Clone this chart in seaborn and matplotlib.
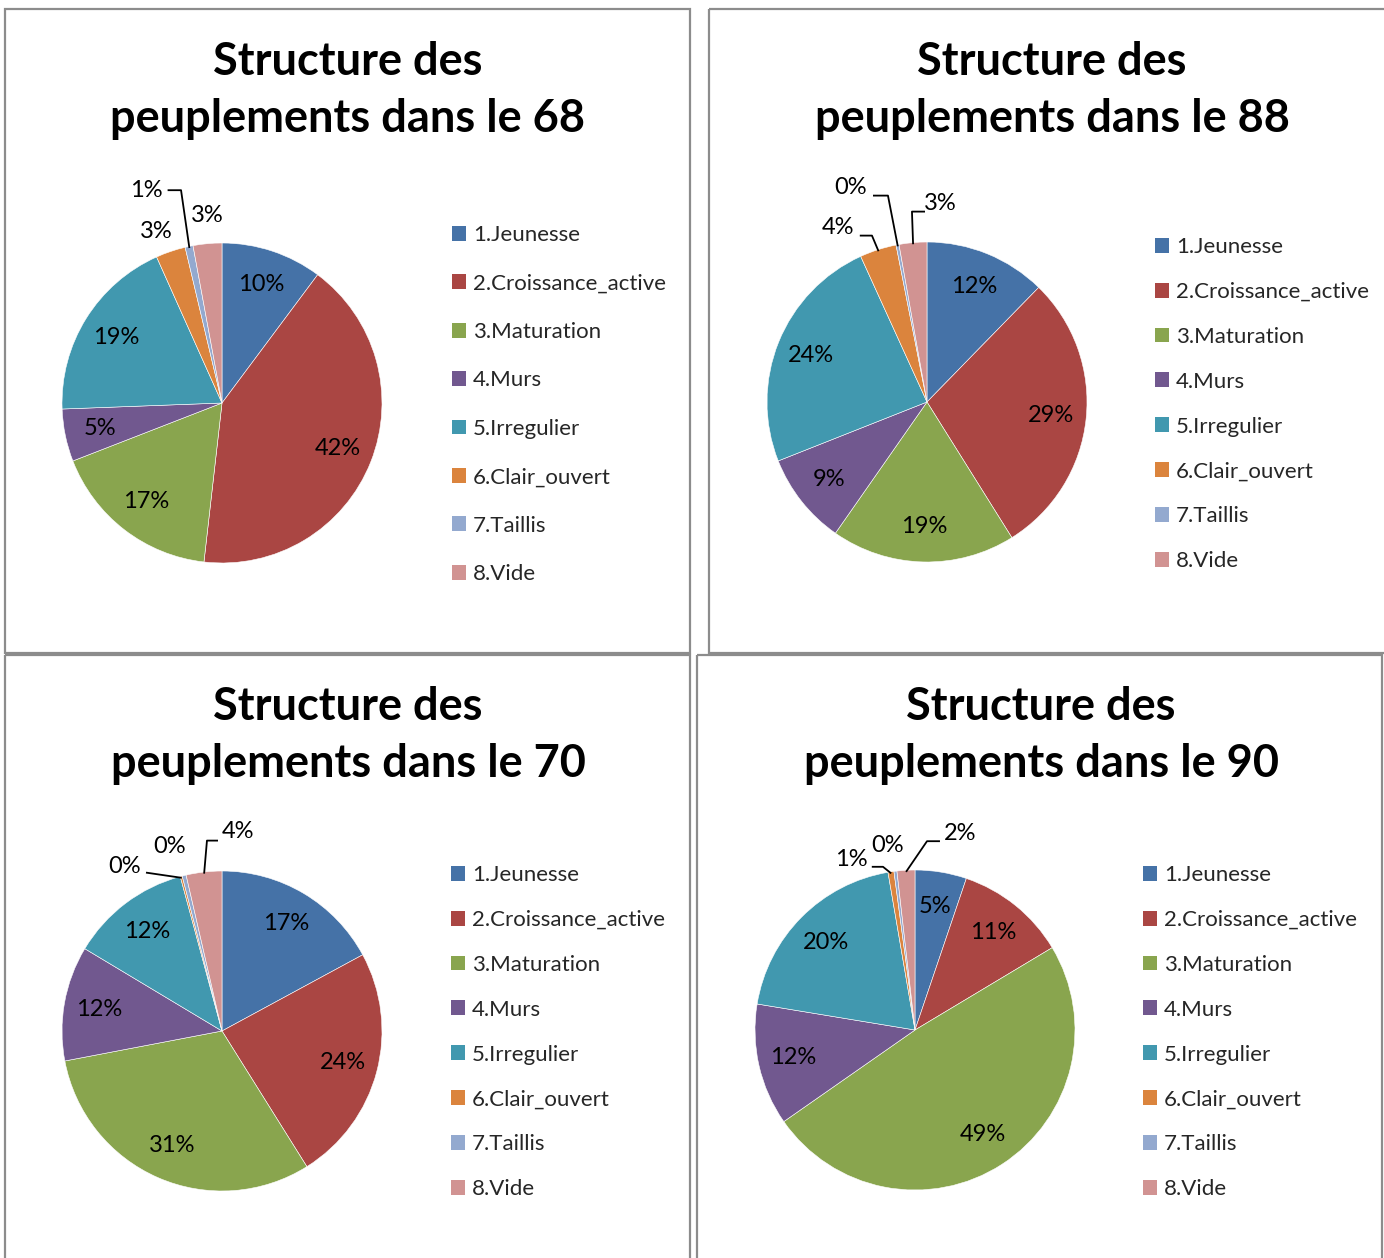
import numpy as np
import matplotlib
matplotlib.use("Agg")
import matplotlib.pyplot as plt
from matplotlib.patches import Patch, Rectangle
import seaborn as sns

sns.set_theme(style="white")
plt.rcParams["font.family"] = ["Lato", "DejaVu Sans"]

# ---- data -------------------------------------------------------------
categories = ["1.Jeunesse", "2.Croissance_active", "3.Maturation", "4.Murs",
              "5.Irregulier", "6.Clair_ouvert", "7.Taillis", "8.Vide"]
dept_68 = [10.2, 41.6, 17.3, 5.3, 18.9, 3.0, 0.8, 2.9]
dept_88 = [12.3, 28.8, 18.6, 9.3, 24.2, 3.7, 0.3, 2.8]
dept_70 = [17.1, 24.0, 30.9, 11.6, 12.2, 0.2, 0.4, 3.6]
dept_90 = [5.2, 11.2, 48.9, 12.3, 19.7, 0.6, 0.3, 1.8]
departments = ["68", "88", "70", "90"]

colors = sns.color_palette(["#4572A7", "#AA4643", "#89A54E", "#71588F",
                            "#4198AF", "#DB843D", "#93A9CF", "#D19392"])

W, H = 1384, 1258
fig = plt.figure(figsize=(W / 100, H / 100), dpi=100)
fig.patch.set_facecolor("white")

R_PX = 160  # pie radius in pixels


def px(x, y):
    return x / W, 1 - y / H


# panel layout: frame box, pie centre, title centre x, title top y, legend anchor
panels = [
    dict(vals=dept_68, box=(5, 9, 690, 653), c=(222, 403), tx=348, ty=62,
         leg=(452, 225), lsp=1.28,
         small={5: ((-0.41, 1.075), None),
                6: ((-0.47, 1.33), [(-0.34, 1.33), (-0.256, 1.33)]),
                7: ((-0.09, 1.175), None)}),
    dict(vals=dept_88, box=(709, 9, 1400, 653), c=(927, 402), tx=1052, ty=62,
         leg=(1155, 237), lsp=1.12,
         small={5: ((-0.556, 1.0875), [(-0.42, 1.04), (-0.344, 1.04)]),
                6: ((-0.48, 1.3375), [(-0.3375, 1.29), (-0.244, 1.29)]),
                7: ((0.08, 1.2375), [(-0.0125, 1.19), (-0.094, 1.19)])}),
    dict(vals=dept_70, box=(5, 655, 690, 1270), c=(222, 1031), tx=348, ty=707,
         leg=(451, 865), lsp=1.12,
         small={5: ((-0.606, 1.03), [(-0.475, 0.99)]),
                6: ((-0.325, 1.156), None),
                7: ((0.1, 1.244), [(-0.025, 1.19), (-0.094, 1.19)])}),
    dict(vals=dept_90, box=(697, 655, 1382, 1270), c=(915, 1030), tx=1041, ty=707,
         leg=(1143, 865), lsp=1.12,
         small={5: ((-0.4, 1.0625), [(-0.27, 1.02), (-0.2, 1.02)]),
                6: ((-0.169, 1.156), None),
                7: ((0.28, 1.225), [(0.156, 1.18), (0.075, 1.18)])}),
]

border_ax = fig.add_axes([0, 0, 1, 1])
border_ax.set_xlim(0, W)
border_ax.set_ylim(H, 0)
border_ax.axis("off")

LABEL_FS = 17
LEGEND_FS = 16

for dept, p in zip(departments, panels):
    x0, y0, x1, y1 = p["box"]
    border_ax.add_patch(Rectangle((x0, y0), x1 - x0, y1 - y0, fill=False,
                                  edgecolor="#8C8C8C", linewidth=1.6))

    cx, cy = p["c"]
    half = 260
    ax = fig.add_axes([(cx - half) / W, 1 - (cy + half) / H, 2 * half / W, 2 * half / H])

    vals = np.array(p["vals"])
    wedges, _ = ax.pie(vals, colors=colors, startangle=90, counterclock=False,
                       radius=1.0, wedgeprops=dict(linewidth=0.4, edgecolor="white"))
    lim = half / R_PX
    ax.set_xlim(-lim, lim)
    ax.set_ylim(-lim, lim)
    ax.set_aspect("equal")
    ax.axis("off")

    total = vals.sum()
    cum = np.cumsum(vals) - vals / 2
    for i, v in enumerate(vals):
        theta = np.deg2rad(cum[i] / total * 360)
        label = f"{round(v / total * 100):d}%"
        if i in p["small"]:
            (lx, ly), path = p["small"][i]
            ax.text(lx, ly, label, ha="center", va="center", fontsize=LABEL_FS,
                    color="black")
            if path is not None:
                ex, ey = np.sin(theta) * 0.99, np.cos(theta) * 0.99
                xs = [q[0] for q in path] + [ex]
                ys = [q[1] for q in path] + [ey]
                ax.plot(xs, ys, color="black", linewidth=1.3, solid_capstyle="butt")
        else:
            d = 0.78
            ax.text(np.sin(theta) * d, np.cos(theta) * d, label, ha="center",
                    va="center", fontsize=LABEL_FS, color="black")

    # title
    tx, ty = p["tx"], p["ty"]
    fig.text(*px(tx, ty), "Structure des", ha="center", va="center",
             fontsize=32.5, fontweight="bold", color="black")
    fig.text(*px(tx, ty + 57), f"peuplements dans le {dept}", ha="center",
             va="center", fontsize=32.5, fontweight="bold", color="black")

    handles = [Patch(facecolor=col, edgecolor="none") for col in colors]
    lx, ly = p["leg"]
    fig.legend(handles, categories, loc="upper left", bbox_to_anchor=px(lx, ly),
               frameon=False, fontsize=LEGEND_FS, handlelength=0.65,
               handleheight=0.65, handletextpad=0.3, labelspacing=p["lsp"],
               borderpad=0, borderaxespad=0)

fig.savefig("out.png", dpi=100, facecolor="white")
